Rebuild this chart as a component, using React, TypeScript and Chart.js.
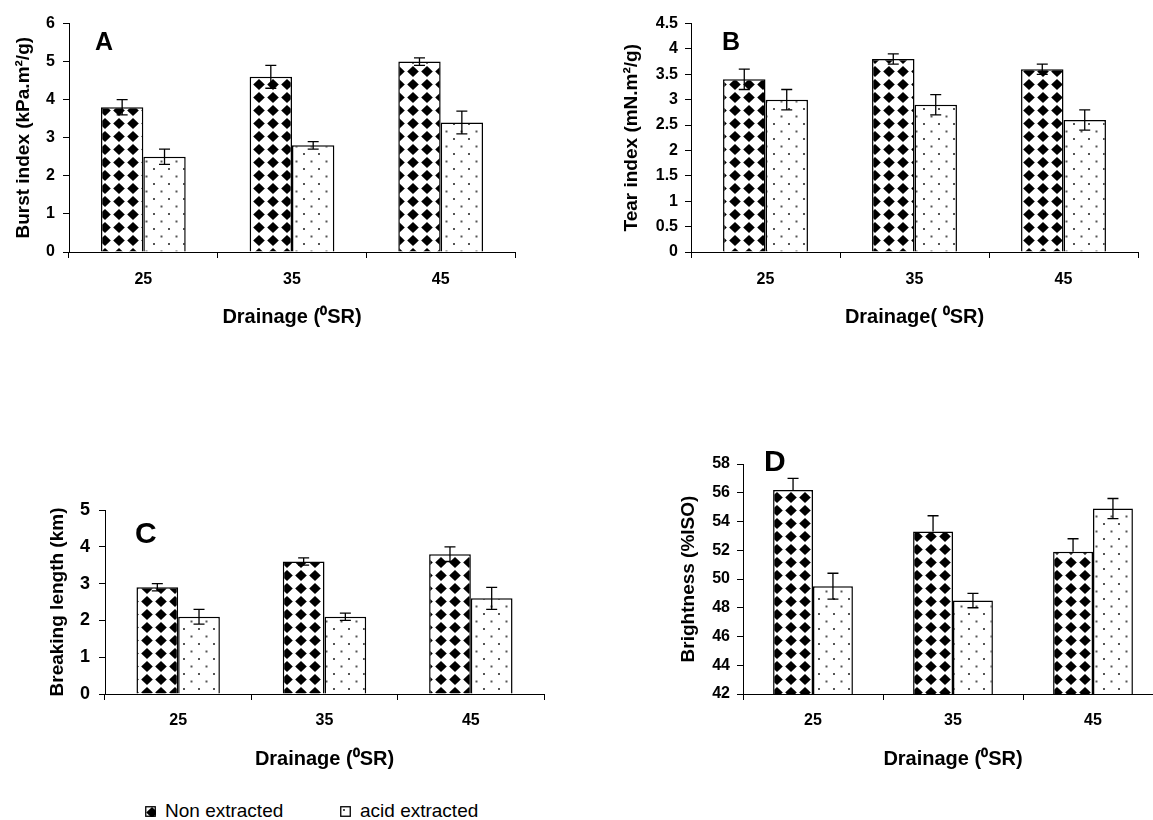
import React, { useEffect, useRef } from "react";
import { Chart, registerables } from "chart.js";

Chart.register(...registerables);

const FONT = 'Arial, "Liberation Sans", Helvetica, sans-serif';

// ---------- data ----------
const categories = ["25", "35", "45"];
const seriesNames = ["Non extracted", "acid extracted"];

const burstNon = [3.8, 4.6, 5.0];
const burstNonErr = [0.2, 0.3, 0.1];
const burstAcid = [2.5, 2.8, 3.4];
const burstAcidErr = [0.2, 0.1, 0.3];

const tearNon = [3.4, 3.8, 3.6];
const tearNonErr = [0.2, 0.1, 0.1];
const tearAcid = [3.0, 2.9, 2.6];
const tearAcidErr = [0.2, 0.2, 0.2];

const breakNon = [2.9, 3.6, 3.8];
const breakNonErr = [0.1, 0.1, 0.2];
const breakAcid = [2.1, 2.1, 2.6];
const breakAcidErr = [0.2, 0.1, 0.3];

const brightNon = [56.2, 53.3, 51.9];
const brightNonErr = [0.8, 1.1, 0.9];
const brightAcid = [49.5, 48.5, 54.9];
const brightAcidErr = [0.9, 0.5, 0.7];

// ---------- patterns ----------
function diamondTile(): HTMLCanvasElement {
  const w = 14, h = 13;
  const c = document.createElement("canvas");
  c.width = w; c.height = h;
  const g = c.getContext("2d")!;
  g.fillStyle = "#fff";
  g.fillRect(0, 0, w, h);
  g.fillStyle = "#000";
  const cx = w / 2, cy = h / 2, dx = 5.8, dy = 5.4;
  g.beginPath();
  g.moveTo(cx, cy - dy);
  g.lineTo(cx + dx, cy);
  g.lineTo(cx, cy + dy);
  g.lineTo(cx - dx, cy);
  g.closePath();
  g.fill();
  return c;
}

function dotTile(): HTMLCanvasElement {
  const w = 15, h = 15;
  const c = document.createElement("canvas");
  c.width = w; c.height = h;
  const g = c.getContext("2d")!;
  g.fillStyle = "#fff";
  g.fillRect(0, 0, w, h);
  g.fillStyle = "#555";
  g.fillRect(3, 3, 2, 2);
  g.fillRect(10.5, 10.5, 2, 2);
  return c;
}

// ---------- plugins ----------
const errorBarPlugin = {
  id: "errorBars",
  afterDatasetsDraw(chart: any) {
    const { ctx } = chart;
    const yScale = chart.scales.y;
    chart.data.datasets.forEach((ds: any, di: number) => {
      const meta = chart.getDatasetMeta(di);
      meta.data.forEach((bar: any, i: number) => {
        const v = ds.data[i];
        const e = ds.errors[i];
        const x = bar.x;
        const yTop = yScale.getPixelForValue(v + e);
        const yBot = ds.plusOnly ? yScale.getPixelForValue(v) : yScale.getPixelForValue(v - e);
        ctx.save();
        ctx.strokeStyle = "#000";
        ctx.lineWidth = 1.3;
        ctx.beginPath();
        ctx.moveTo(x, yTop);
        ctx.lineTo(x, yBot);
        ctx.moveTo(x - 5.5, yTop);
        ctx.lineTo(x + 5.5, yTop);
        if (!ds.plusOnly) {
          ctx.moveTo(x - 5.5, yBot);
          ctx.lineTo(x + 5.5, yBot);
        }
        ctx.stroke();
        ctx.restore();
      });
    });
  },
};

const letterPlugin = {
  id: "panelLetter",
  afterDraw(chart: any, _args: any, opts: any) {
    if (!opts || !opts.text) return;
    const { ctx, chartArea } = chart;
    ctx.save();
    ctx.fillStyle = "#000";
    ctx.font = `bold ${opts.size}px ${FONT}`;
    ctx.textBaseline = "alphabetic";
    ctx.textAlign = "left";
    ctx.fillText(opts.text, chartArea.left + opts.dx, chartArea.top + opts.dy);
    ctx.restore();
  },
};

type PanelSpec = {
  letter: string;
  letterSize: number;
  letterDx: number;
  letterDy: number;
  yTitle: string;
  xTitle: string;
  min: number;
  max: number;
  step: number;
  non: number[];
  nonErr: number[];
  acid: number[];
  acidErr: number[];
  nonPlusOnly?: boolean;
  left: number;
  top: number;
  width: number;
  height: number;
  padTop: number;
  padRight: number;
  yWidth: number;
  xHeight: number;
  yTitlePad: number;
  yTickPad: number;
  yTickSize: number;
  xTickPad: number;
  xTitlePad: number;
};

const panels: PanelSpec[] = [
  {
    letter: "A", letterSize: 25, letterDx: 26, letterDy: 26.5,
    yTitle: "Burst index (kPa.m\u00B2/g)", xTitle: "Drainage (\u2070SR)",
    min: 0, max: 6, step: 1,
    non: burstNon, nonErr: burstNonErr, acid: burstAcid, acidErr: burstAcidErr,
    left: 0, top: 0, width: 540, height: 330, padTop: 23.5, padRight: 25,
    yWidth: 69, xHeight: 78, yTitlePad: 12.6, yTickPad: 8, yTickSize: 16, xTickPad: 12, xTitlePad: 0.4,
  },
  {
    letter: "B", letterSize: 25, letterDx: 31, letterDy: 26.5,
    yTitle: "Tear index (mN.m\u00B2/g)", xTitle: "Drainage( \u2070SR)",
    min: 0, max: 4.5, step: 0.5,
    non: tearNon, nonErr: tearNonErr, acid: tearAcid, acidErr: tearAcidErr,
    left: 560, top: 0, width: 593, height: 330, padTop: 23.5, padRight: 15,
    yWidth: 131, xHeight: 78, yTitlePad: 60.6, yTickPad: 7, yTickSize: 16, xTickPad: 12, xTitlePad: 0.4,
  },
  {
    letter: "C", letterSize: 30, letterDx: 30, letterDy: 33,
    yTitle: "Breaking length (km)", xTitle: "Drainage (\u2070SR)",
    min: 0, max: 5, step: 1,
    non: breakNon, nonErr: breakNonErr, acid: breakAcid, acidErr: breakAcidErr,
    left: 0, top: 400, width: 560, height: 380, padTop: 110, padRight: 16,
    yWidth: 105, xHeight: 86, yTitlePad: 46.6, yTickPad: 9, yTickSize: 18, xTickPad: 11, xTitlePad: 8.4,
  },
  {
    letter: "D", letterSize: 30, letterDx: 21, letterDy: 7,
    yTitle: "Brightness (%ISO)", xTitle: "Drainage (\u2070SR)",
    min: 42, max: 58, step: 2,
    non: brightNon, nonErr: brightNonErr, acid: brightAcid, acidErr: brightAcidErr, nonPlusOnly: true,
    left: 560, top: 400, width: 620, height: 380, padTop: 64, padRight: 17,
    yWidth: 183, xHeight: 86, yTitlePad: 117.6, yTickPad: 7, yTickSize: 16, xTickPad: 11, xTitlePad: 8.4,
  },
];

function PanelChart({ p }: { p: PanelSpec }) {
  const ref = useRef<HTMLCanvasElement | null>(null);
  useEffect(() => {
    const canvas = ref.current!;
    const ctx = canvas.getContext("2d")!;
    const diamond = ctx.createPattern(diamondTile(), "repeat");
    const dots = ctx.createPattern(dotTile(), "repeat");
    const chart = new Chart(canvas, {
      type: "bar",
      data: {
        labels: categories,
        datasets: [
          {
            label: seriesNames[0],
            data: p.non,
            errors: p.nonErr,
            plusOnly: !!p.nonPlusOnly,
            backgroundColor: diamond,
            borderColor: "#000",
            borderWidth: 1.5,
            categoryPercentage: 0.57,
            barPercentage: 1.0,
          } as any,
          {
            label: seriesNames[1],
            data: p.acid,
            errors: p.acidErr,
            backgroundColor: dots,
            borderColor: "#000",
            borderWidth: 1.5,
            categoryPercentage: 0.57,
            barPercentage: 1.0,
          } as any,
        ],
      },
      options: {
        animation: false,
        responsive: false,
        maintainAspectRatio: false,
        events: [],
        layout: { padding: { left: 0, top: p.padTop, right: p.padRight, bottom: 0 } },
        plugins: {
          legend: { display: false },
          tooltip: { enabled: false },
          panelLetter: { text: p.letter, size: p.letterSize, dx: p.letterDx, dy: p.letterDy },
        } as any,
        scales: {
          x: {
            type: "category",
            offset: true,
            grid: {
              display: true,
              offset: true,
              drawOnChartArea: false,
              drawTicks: true,
              tickLength: 6,
              color: "#000",
              lineWidth: 1,
            },
            border: { display: true, color: "#000", width: 1 },
            ticks: {
              color: "#000",
              font: { family: FONT, size: 16, weight: "bold" },
              padding: p.xTickPad,
              maxRotation: 0,
              autoSkip: false,
            },
            title: {
              display: true,
              text: p.xTitle,
              color: "#000",
              font: { family: FONT, size: 20, weight: "bold" },
              padding: { top: 0, bottom: p.xTitlePad },
            },
            afterFit: (s: any) => {
              s.height = p.xHeight;
            },
          },
          y: {
            min: p.min,
            max: p.max,
            grid: {
              display: true,
              drawOnChartArea: false,
              drawTicks: true,
              tickLength: 6,
              color: "#000",
              lineWidth: 1,
            },
            border: { display: true, color: "#000", width: 1 },
            ticks: {
              stepSize: p.step,
              color: "#000",
              font: { family: FONT, size: p.yTickSize, weight: "bold" },
              padding: p.yTickPad,
              callback: (v: any) => String(Math.round(Number(v) * 100) / 100),
            },
            title: {
              display: true,
              text: p.yTitle,
              color: "#000",
              font: { family: FONT, size: 19, weight: "bold" },
              padding: { top: p.yTitlePad, bottom: 0 },
            },
            afterFit: (s: any) => {
              s.width = p.yWidth;
            },
          },
        } as any,
      },
      plugins: [errorBarPlugin, letterPlugin],
    } as any);
    return () => chart.destroy();
  }, [p]);
  return (
    <canvas
      ref={ref}
      width={p.width}
      height={p.height}
      style={{ position: "absolute", left: p.left, top: p.top, width: p.width, height: p.height }}
    />
  );
}

function Swatch({ kind }: { kind: "diamond" | "dots" }) {
  const ref = useRef<HTMLCanvasElement | null>(null);
  useEffect(() => {
    const c = ref.current!;
    const g = c.getContext("2d")!;
    const pat = g.createPattern(kind === "diamond" ? diamondTile() : dotTile(), "repeat");
    g.fillStyle = pat as any;
    g.fillRect(0, 0, 11, 11);
    g.strokeStyle = "#000";
    g.lineWidth = 1.3;
    g.strokeRect(0.75, 0.75, 9.5, 9.5);
  }, [kind]);
  return <canvas ref={ref} width={11} height={11} style={{ display: "block" }} />;
}

export default function App() {
  return (
    <div
      style={{
        position: "fixed",
        left: 0,
        top: 0,
        width: 1153,
        height: 820,
        overflow: "hidden",
        background: "#fff",
      }}
    >
      {panels.map((p) => (
        <PanelChart key={p.letter} p={p} />
      ))}
      <div style={{ position: "absolute", left: 145, top: 806, width: 11, height: 11 }}>
        <Swatch kind="diamond" />
      </div>
      <div
        style={{
          position: "absolute",
          left: 165,
          top: 800,
          font: `19px ${FONT}`,
          color: "#000",
          lineHeight: "22px",
          whiteSpace: "nowrap",
        }}
      >
        {seriesNames[0]}
      </div>
      <div style={{ position: "absolute", left: 340, top: 806, width: 11, height: 11 }}>
        <Swatch kind="dots" />
      </div>
      <div
        style={{
          position: "absolute",
          left: 360,
          top: 800,
          font: `19px ${FONT}`,
          color: "#000",
          lineHeight: "22px",
          whiteSpace: "nowrap",
        }}
      >
        {seriesNames[1]}
      </div>
    </div>
  );
}
